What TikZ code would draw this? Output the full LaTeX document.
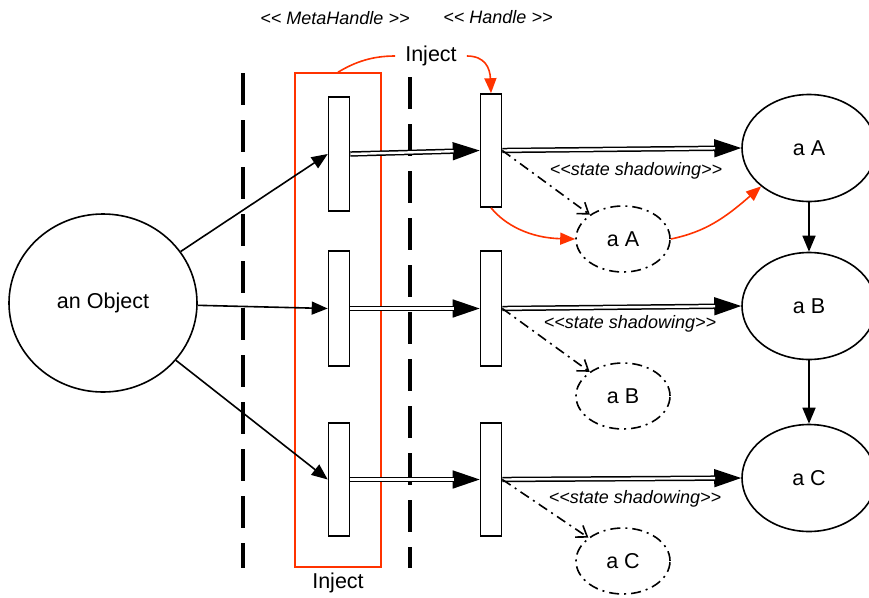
\documentclass[tikz,border=0pt]{standalone}
\usepackage{fontspec}
\setmainfont{Liberation Sans}
\usetikzlibrary{arrows.meta,shapes.geometric}
\definecolor{injred}{RGB}{255,51,0}
\newcommand\dlt{<\kern0pt<}
\newcommand\dgt{>\kern0pt>}
\begin{document}
\begin{tikzpicture}[x=1pt,y=-1pt,
 lbl/.style={font=\fontsize{21.5}{24}\selectfont},
 ital/.style={font=\fontsize{18}{20}\selectfont\itshape},
 bar/.style={draw, line width=1.6pt, fill=white, minimum width=21pt, inner sep=0},
 bigell/.style={ellipse, draw, line width=1.6pt, minimum width=134pt, minimum height=107pt, inner sep=0, lbl},
 smallell/.style={ellipse, draw, line width=1.6pt, dash pattern=on 10pt off 5pt on 2pt off 5pt, minimum width=94pt, minimum height=66pt, inner sep=0, lbl},
 lane/.style={line width=3.5pt, dash pattern=on 32pt off 15pt},
 plain/.style={line width=1.6pt, -{Triangle[length=16pt,width=13pt]}},
 dblhead/.style={line width=1.5pt, -{Triangle[length=27pt,width=18pt]}},
 dbl/.style={double, double distance=2.4pt, line width=1.5pt, shorten >=26pt},
 shadowarr/.style={line width=1.6pt, dash pattern=on 10pt off 5pt on 2pt off 5pt, -{Straight Barb[length=10pt,width=14pt]}},
 redarr/.style={injred, line width=1.6pt, -{Triangle[length=15pt,width=12pt]}},
]
\useasboundingbox (0,0) rectangle (869,597);

% lanes
\coordinate (l1t) at (243,73);
\coordinate (l1b) at (243,568);
\coordinate (l2t) at (410,77);
\coordinate (l2b) at (410,568);
\draw[lane] (l1t) -- (l1b);
\draw[lane] (l2t) -- (l2b);

% MetaHandle box
\node[draw=injred, line width=1.6pt, minimum width=86pt, minimum height=494pt, inner sep=0] (mhbox) at (338,320) {};

% headers
\node[ital] (mhlbl) at (335,18) {\dlt{} MetaHandle \dgt};
\node[ital] (hlbl) at (498,17) {\dlt{} Handle \dgt};
\node[lbl, inner xsep=10pt] (injT) at (431,56) {Inject};
\node[lbl] (injB) at (338,583) {Inject};

% object
\node[ellipse, draw, line width=1.6pt, minimum width=188pt, minimum height=178pt, inner sep=0, lbl] (obj) at (103,303) {an Object};

% bars
\node[bar, minimum height=114pt] (mh1) at (339,154) {};
\node[bar, minimum height=115pt] (mh2) at (339,308.5) {};
\node[bar, minimum height=113pt] (mh3) at (339,479.5) {};
\node[bar, minimum height=113pt] (h1) at (491,150.5) {};
\node[bar, minimum height=115pt] (h2) at (491,308.5) {};
\node[bar, minimum height=113pt] (h3) at (491,479.5) {};

% states
\node[bigell] (A) at (809,148) {a A};
\node[bigell] (B) at (809,306) {a B};
\node[bigell] (C) at (809,478) {a C};
\node[smallell] (sA) at (623,239) {a A};
\node[smallell] (sB) at (623,396) {a B};
\node[smallell] (sC) at (623,561) {a C};

% object to metahandles
\draw[plain] (obj) -- (mh1.west);
\draw[plain] (obj) -- (mh2.west);
\draw[plain] (obj) -- (mh3.west);

% double arrows
\foreach \a/\b in {mh1/h1, mh2/h2, mh3/h3, h1/A, h2/B, h3/C}{
  \draw[dblhead] (\a.east) -- (\b.west);
  \draw[dbl] (\a.east) -- (\b.west);
}

% state chain
\draw[plain] (A.south) -- (B.north);
\draw[plain] (B.south) -- (C.north);

% shadowing
\draw[shadowarr] (h1.east) -- (sA);
\draw[shadowarr] (h2.east) -- (sB);
\draw[shadowarr] (h3.east) -- (sC);
\node[ital] (ss1) at (636,171) {\dlt state shadowing\dgt};
\node[ital] (ss2) at (630,324) {\dlt state shadowing\dgt};
\node[ital] (ss3) at (635,499) {\dlt state shadowing\dgt};

% inject (red)
\draw[injred, line width=1.6pt] (mhbox.north) .. controls (355,62) and (372,56) .. (injT.west);
\draw[redarr] (injT.east) .. controls (485,56) and (490,68) .. (h1.north);
\draw[redarr] (h1.south) .. controls (505,225) and (530,238) .. (sA.west);
\draw[redarr] (sA.east) .. controls (705,232) and (725,218) .. (A.south west);
\end{tikzpicture}
\end{document}
